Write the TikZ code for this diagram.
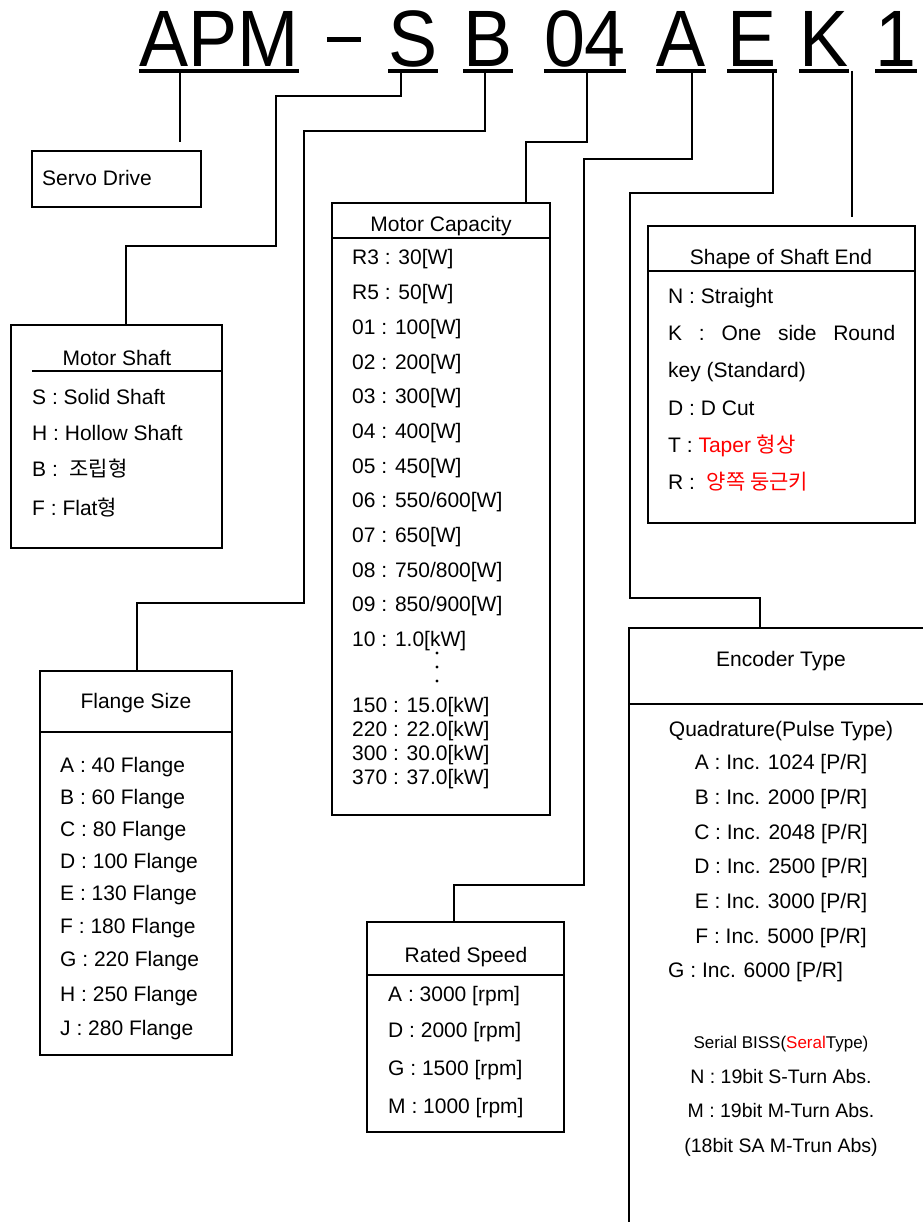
\documentclass[tikz,border=0pt]{standalone}
\usepackage{fontspec}
\setmainfont{Liberation Sans}
\newfontfamily\kr{Noto Sans CJK KR}
\usetikzlibrary{positioning}
\definecolor{kred}{rgb}{1, 0, 0}

\tikzset{
  code/.style={inner sep=0pt, anchor=base, xscale=0.92, font=\fontsize{80}{80}\selectfont},
  uline/.style={line width=4pt},
  lead/.style={line width=2.6pt},
  frame/.style={draw, line width=1.8pt, inner sep=0pt},
  rule/.style={line width=1.8pt},
  txt/.style={inner sep=0pt, anchor=base west, font=\fontsize{21}{25}\selectfont},
  head/.style={txt, anchor=base},
  small/.style={head, font=\fontsize{17}{20}\selectfont},
  mid/.style={head, font=\fontsize{19.5}{23}\selectfont},
}

\begin{document}
\begin{tikzpicture}[x=1pt, y=-1pt]
  \useasboundingbox (0,0) rectangle (922,1222);

  % model code
  \node[code] (cApm) at (219,67) {APM};
  \node[code] (cDash) at (344,67) {\rule[25pt]{37pt}{5pt}};
  \node[code] (cShaft) at (413,67) {S};
  \node[code] (cFlange) at (488,67) {B};
  \node[code] (cPower) at (585,67) {04};
  \node[code] (cSpeed) at (681,67) {A};
  \node[code] (cEnc) at (752,67) {E};
  \node[code] (cEnd) at (824,67) {K};
  \node[code] (cOpt) at (896,67) {1};
  \foreach \n in {cApm,cShaft,cFlange,cPower,cSpeed,cEnc,cEnd,cOpt}
    \draw[uline] ([yshift=-4]\n.base west) -- ([yshift=-4]\n.base east);

  % boxes
  \node[frame, minimum width=169pt, minimum height=56pt] (servo) at (116.5,179) {};
  \node[frame, minimum width=211pt, minimum height=223pt] (shaft) at (116.5,436.5) {};
  \node[frame, minimum width=192pt, minimum height=384pt] (flange) at (136,863) {};
  \node[frame, minimum width=218pt, minimum height=612pt] (power) at (441,509) {};
  \node[frame, minimum width=197pt, minimum height=210pt] (speed) at (465.5,1027) {};
  \node[frame, minimum width=267pt, minimum height=297pt] (shaftend) at (781.5,374.5) {};
  \node[frame, minimum width=306pt, minimum height=607pt] (encoder) at (782,931.5) {};

  \draw[rule] (32,371) -- (222,371);
  \draw[rule] (40,732) -- (232,732);
  \draw[rule] (332,238) -- (550,238);
  \draw[rule] (367,975) -- (564,975);
  \draw[rule] (648,271) -- (915,271);
  \draw[rule] (629,704) -- (935,704);

  % leaders
  \coordinate (apmdrop) at ([xshift=-39,yshift=-4]cApm.base);
  \draw[lead, shorten >=8pt] (apmdrop) -- (apmdrop |- servo.north);
  \draw[lead] ([xshift=-12,yshift=-4]cShaft.base) -- ++(0,25) -| (276,246) -| ([xshift=9.5]shaft.north);
  \draw[lead] ([xshift=-3,yshift=-4]cFlange.base) -- ++(0,60) -| (304,603) -| ([xshift=1]flange.north);
  \draw[lead] ([xshift=2,yshift=-4]cPower.base) -- ++(0,71) -| ([xshift=85]power.north);
  \draw[lead] ([xshift=11,yshift=-4]cSpeed.base) -- ++(0,88) -| (584,885) -| ([xshift=-11.5]speed.north);
  \draw[lead] ([xshift=21,yshift=-4]cEnc.base) -- ++(0,122) -| (630,598) -| ([xshift=-22]encoder.north);
  \coordinate (kdrop) at ([xshift=28,yshift=-4]cEnd.base);
  \draw[lead, shorten >=8pt] (kdrop) -- (kdrop |- shaftend.north);

  % servo drive
  \node[txt] (servoT) at (42,186) {Servo Drive};

  % motor shaft
  \node[head] (shaftT) at (117,365) {Motor Shaft};
  \foreach \y/\t [count=\i] in {404/{S : Solid Shaft}, 440/{H : Hollow Shaft},
      476/{B :\ \ {\kr 조립형}}, 515/{F : Flat{\kr 형}}}
    \node[txt] (shaft\i) at (32,\y) {\t};

  % flange size
  \node[head] (flangeT) at (136,708) {Flange Size};
  \foreach \y/\t [count=\i] in {772/{A : 40 Flange}, 804/{B : 60 Flange}, 836/{C : 80 Flange},
      868/{D : 100 Flange}, 900/{E : 130 Flange}, 933/{F : 180 Flange},
      966/{G : 220 Flange}, 1001/{H : 250 Flange}, 1035/{J : 280 Flange}}
    \node[txt] (flange\i) at (60,\y) {\t};

  % motor capacity
  \node[head] (powerT) at (441,232) {Motor Capacity};
  \foreach \y/\t [count=\i] in {265/{R3 : 30[W]}, 299/{R5 : 50[W]}, 334/{01 : 100[W]},
      369/{02 : 200[W]}, 403/{03 : 300[W]}, 438/{04 : 400[W]}, 473/{05 : 450[W]},
      507/{06 : 550/600[W]}, 542/{07 : 650[W]}, 577/{08 : 750/800[W]},
      611/{09 : 850/900[W]}, 646/{10 : 1.0[kW]}, 712/{150 : 15.0[kW]},
      736/{220 : 22.0[kW]}, 760/{300 : 30.0[kW]}, 784/{370 : 37.0[kW]}}
    \node[txt] (power\i) at (352,\y) {\t};
  \foreach \y in {653,667,681}
    \fill (437,\y) circle (1.7);

  % rated speed
  \node[head] (speedT) at (466,962) {Rated Speed};
  \foreach \y/\t [count=\i] in {1001/{A : 3000 [rpm]}, 1037/{D : 2000 [rpm]},
      1075/{G : 1500 [rpm]}, 1113/{M : 1000 [rpm]}}
    \node[txt] (speed\i) at (388,\y) {\t};

  % shape of shaft end
  \node[head] (shaftendT) at (781,265) {Shape of Shaft End};
  \foreach \y/\t [count=\i] in {303/{N : Straight}, 340/{\makebox[227pt][s]{K : One side Round}},
      377/{key (Standard)}, 415/{D : D Cut}, 452/{T : \textcolor{kred}{Taper {\kr 형상}}},
      489/{R :\ \ \textcolor{kred}{\kr 양쪽 둥근키}}}
    \node[txt] (shaftend\i) at (668,\y) {\t};

  % encoder type
  \node[head] (encoderT) at (781,666) {Encoder Type};
  \foreach \y/\t [count=\i] in {736/{Quadrature(Pulse Type)}, 769/{A : Inc. 1024 [P/R]},
      804/{B : Inc. 2000 [P/R]}, 839/{C : Inc. 2048 [P/R]}, 873/{D : Inc. 2500 [P/R]},
      908/{E : Inc. 3000 [P/R]}, 943/{F : Inc. 5000 [P/R]}}
    \node[head] (encoder\i) at (781,\y) {\t};
  \node[txt] (encoderG) at (668,977) {G : Inc. 6000 [P/R]};
  \node[small] (serialT) at (781,1048) {Serial BISS(\textcolor{kred}{Seral}Type)};
  \node[mid] (serial1) at (781,1083) {N : 19bit S-Turn Abs.};
  \node[mid] (serial2) at (781,1117) {M : 19bit M-Turn Abs.};
  \node[mid] (serial3) at (781,1152) {(18bit SA M-Trun Abs)};
\end{tikzpicture}
\end{document}
